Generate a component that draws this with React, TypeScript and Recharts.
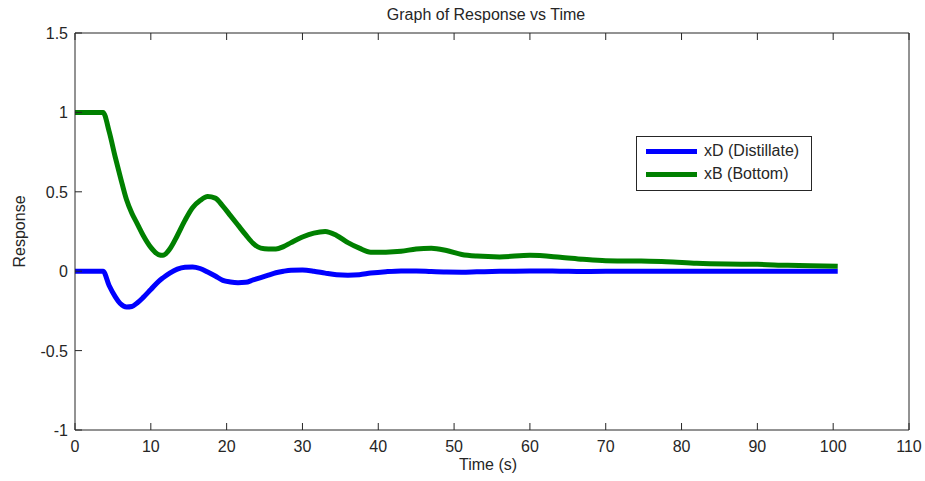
import React from "react";
import { LineChart, Line, XAxis, YAxis, Legend, Label } from "recharts";

// sample times (s) and the two responses
const times = [
  0, 2, 3.7, 4.5, 5.3, 6, 6.8, 7.5, 8.2, 9, 10, 11, 11.6, 12.5, 13.5, 14.5, 15.5, 16.5, 17.5, 18.5,
  19.5, 20.5, 21.5, 22.5, 23.5, 24.5, 25.5, 26.5, 27.5, 28.5, 30, 31.5, 33, 34.5, 36, 37.5, 39, 41,
  43, 45, 47, 49, 51, 53, 56, 60, 64, 67, 70, 74, 78, 82, 86, 90, 94, 97, 100.6,
];
const xD = [
  0, 0, 0, -0.09, -0.16, -0.205, -0.225, -0.222, -0.2, -0.165, -0.115, -0.065, -0.042, -0.012, 0.013,
  0.025, 0.027, 0.017, -0.005, -0.03, -0.058, -0.068, -0.072, -0.07, -0.055, -0.04, -0.025, -0.01, 0,
  0.006, 0.007, 0, -0.012, -0.022, -0.025, -0.022, -0.012, -0.003, 0.002, 0.002, -0.002, -0.005,
  -0.006, -0.004, -0.001, 0.002, 0, -0.002, -0.001, 0, 0, 0, 0, 0, 0, 0, 0,
];
const xB = [
  1, 1, 1, 0.88, 0.72, 0.59, 0.45, 0.365, 0.3, 0.225, 0.15, 0.105, 0.1, 0.14, 0.225, 0.32, 0.4, 0.445,
  0.47, 0.46, 0.41, 0.35, 0.29, 0.23, 0.175, 0.145, 0.14, 0.14, 0.155, 0.18, 0.215, 0.24, 0.25, 0.225,
  0.18, 0.145, 0.12, 0.12, 0.125, 0.14, 0.145, 0.13, 0.105, 0.095, 0.09, 0.1, 0.088, 0.075, 0.066,
  0.064, 0.06, 0.05, 0.045, 0.043, 0.037, 0.034, 0.031,
];
const xTicks = [0, 10, 20, 30, 40, 50, 60, 70, 80, 90, 100, 110];
const yTicks = [-1, -0.5, 0, 0.5, 1, 1.5];

const seriesNames = ["xD (Distillate)", "xB (Bottom)"];
const seriesColors = ["#0000ff", "#008000"];

const data = times.map((t, i) => ({ t, xD: xD[i], xB: xB[i] }));

const FONT = "'Liberation Sans', Arial, sans-serif";
const INK = "#262626";
const TICK_LEN = 7;

const BottomTick = ({ x, y, payload }: any) => (
  <g>
    <line x1={x} x2={x} y1={y} y2={y - TICK_LEN} stroke={INK} />
    <text x={x} y={y + 22} textAnchor="middle" fontSize={16} fontFamily={FONT} fill={INK}>
      {payload.value}
    </text>
  </g>
);

const TopTick = ({ x, y }: any) => (
  <line x1={x} x2={x} y1={y} y2={y + TICK_LEN} stroke={INK} />
);

const LeftTick = ({ x, y, payload }: any) => (
  <g>
    <line x1={x} x2={x + TICK_LEN} y1={y} y2={y} stroke={INK} />
    <text x={x - 7} y={y + 6} textAnchor="end" fontSize={16} fontFamily={FONT} fill={INK}>
      {payload.value}
    </text>
  </g>
);

const RightTick = ({ x, y }: any) => (
  <line x1={x} x2={x - TICK_LEN} y1={y} y2={y} stroke={INK} />
);

const YTitle = ({ viewBox }: any) => {
  const cx = viewBox.x + 19;
  const cy = viewBox.y + viewBox.height / 2;
  return (
    <text
      x={cx}
      y={cy}
      transform={`rotate(-90 ${cx} ${cy})`}
      textAnchor="middle"
      dominantBaseline="central"
      fontSize={16}
      fontFamily={FONT}
      fill={INK}
    >
      Response
    </text>
  );
};

const XTitle = ({ viewBox }: any) => (
  <text
    x={viewBox.x + viewBox.width / 2 - 4}
    y={viewBox.y + 40}
    textAnchor="middle"
    fontSize={16}
    fontFamily={FONT}
    fill={INK}
  >
    Time (s)
  </text>
);

const ChartTitle = ({ viewBox }: any) => (
  <text
    x={viewBox.x + viewBox.width / 2 - 6}
    y={viewBox.y - 8}
    textAnchor="middle"
    fontSize={16}
    fontFamily={FONT}
    fill={INK}
  >
    Graph of Response vs Time
  </text>
);

const LegendBox = () => (
  <div
    style={{
      position: "relative",
      width: 176,
      height: 55,
      border: `1px solid ${INK}`,
      background: "#fff",
      boxSizing: "border-box",
      fontFamily: FONT,
      fontSize: 16,
      color: INK,
    }}
  >
    {seriesNames.map((name, i) => (
      <div
        key={name}
        style={{ position: "absolute", left: 9, top: 4 + i * 23, height: 20, display: "flex", alignItems: "center" }}
      >
        <span style={{ display: "inline-block", width: 51, height: 5, background: seriesColors[i], marginRight: 7 }} />
        <span>{name}</span>
      </div>
    ))}
  </div>
);

export default function App() {
  return (
    <div style={{ width: 925, height: 481 }}>
      <style>{"html,body{margin:0;padding:0;overflow:hidden}"}</style>
      <LineChart
        width={925}
        height={481}
        data={data}
        margin={{ top: 28, right: 0, bottom: 0, left: 0 }}
        style={{ overflow: "visible" }}
      >
        <XAxis
          xAxisId="bottom"
          dataKey="t"
          type="number"
          domain={[0, 110]}
          ticks={xTicks}
          interval={0}
          height={51}
          tickSize={0}
          tickMargin={0}
          tickLine={false}
          axisLine={{ stroke: INK }}
          tick={<BottomTick />}
        >
          <Label content={<XTitle />} />
        </XAxis>
        <XAxis
          xAxisId="top"
          orientation="top"
          dataKey="t"
          type="number"
          domain={[0, 110]}
          ticks={xTicks}
          interval={0}
          height={5}
          tickSize={0}
          tickMargin={0}
          tickLine={false}
          axisLine={{ stroke: INK }}
          tick={<TopTick />}
        >
          <Label content={<ChartTitle />} />
        </XAxis>
        <YAxis
          yAxisId="left"
          type="number"
          domain={[-1, 1.5]}
          ticks={yTicks}
          interval={0}
          width={75}
          tickSize={0}
          tickMargin={0}
          tickLine={false}
          axisLine={{ stroke: INK }}
          tick={<LeftTick />}
        >
          <Label content={<YTitle />} />
        </YAxis>
        <YAxis
          yAxisId="right"
          orientation="right"
          type="number"
          domain={[-1, 1.5]}
          ticks={yTicks}
          interval={0}
          width={16}
          tickSize={0}
          tickMargin={0}
          tickLine={false}
          axisLine={{ stroke: INK }}
          tick={<RightTick />}
        />
        <Legend
          layout="vertical"
          align="center"
          verticalAlign="middle"
          content={<LegendBox />}
          wrapperStyle={{ position: "absolute", left: 636, top: 136, width: 176, height: 55 }}
        />
        <Line
          xAxisId="bottom"
          yAxisId="left"
          type="monotone"
          dataKey="xD"
          name={seriesNames[0]}
          stroke={seriesColors[0]}
          strokeWidth={5}
          dot={false}
          isAnimationActive={false}
        />
        <Line
          xAxisId="bottom"
          yAxisId="left"
          type="monotone"
          dataKey="xB"
          name={seriesNames[1]}
          stroke={seriesColors[1]}
          strokeWidth={5}
          dot={false}
          isAnimationActive={false}
        />
      </LineChart>
    </div>
  );
}
